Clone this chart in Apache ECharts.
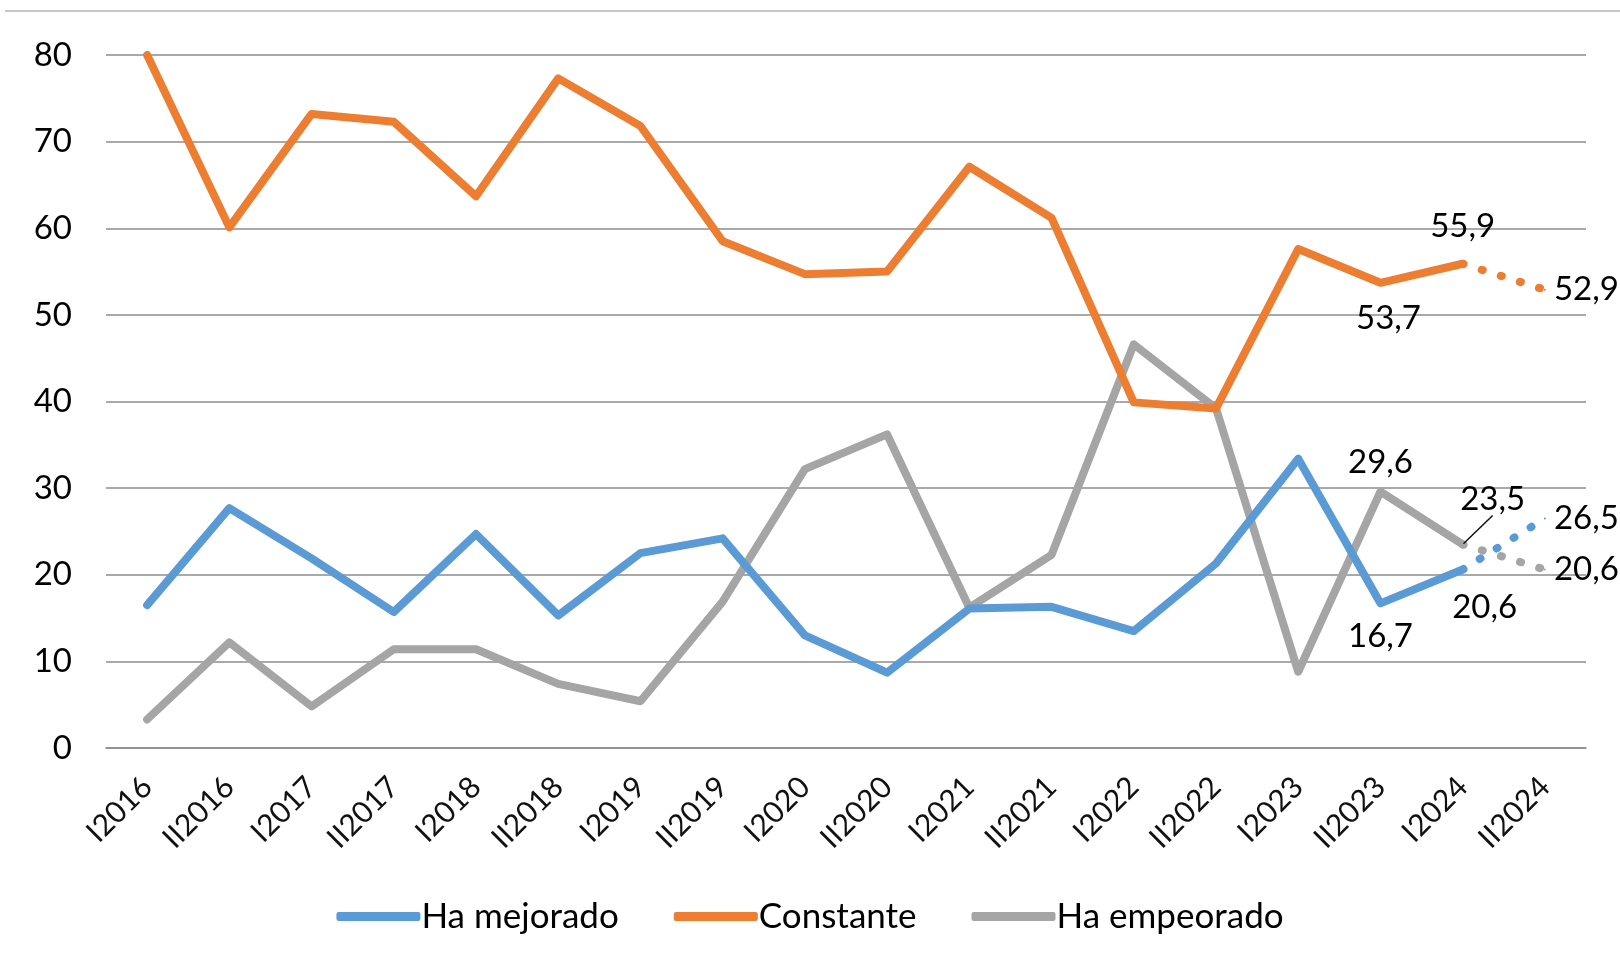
<!DOCTYPE html>
<html>
<head>
<meta charset="utf-8">
<script src="https://cdn.jsdelivr.net/npm/echarts@6/dist/echarts.min.js"></script>
<style>
html,body{margin:0;padding:0;background:#fff;}
#chart{width:1620px;height:972px;}
</style>
</head>
<body>
<div id="chart"></div>
<script>
var categories = ['I2016','II2016','I2017','II2017','I2018','II2018','I2019','II2019','I2020','II2020',
	'I2021','II2021','I2022','II2022','I2023','II2023','I2024','II2024'];
// valores observados hasta I2024, II2024 es la proyeccion (punteada)
var mejorado = [16.5,27.7,21.9,15.7,24.7,15.3,22.5,24.2,13.0,8.7,16.1,16.3,13.5,21.3,33.4,16.7,20.6];
var constante = [80.0,60.1,73.2,72.3,63.7,77.3,71.8,58.5,54.7,55.0,67.1,61.2,39.9,39.2,57.6,53.7,55.9];
var empeorado = [3.3,12.2,4.8,11.4,11.4,7.4,5.4,16.9,32.2,36.2,16.2,22.3,46.6,39.2,8.8,29.6,23.5];
var proyeccion = {mejorado: 26.5, constante: 52.9, empeorado: 20.6};
var yTicks = [0,10,20,30,40,50,60,70,80];

var colors = {mejorado:'#5B9BD5', constante:'#ED7D31', empeorado:'#A5A5A5'};
var font = 'Lato, "Noto Sans", sans-serif';

var fmt = function (v) { return v.toFixed(1).replace('.', ','); };

// etiquetas que se muestran en la grafica
var labelSpec = {
	mejorado: {15:{position:'bottom',distance:16}, 16:{position:'bottom',distance:20,offset:[22,0]}},
	constante: {15:{position:'bottom',distance:18,offset:[8,0]}, 16:{position:'top',distance:20}},
	empeorado: {15:{position:'top',distance:12}, 16:{position:'top',distance:14, line:true}}
};

var chart = echarts.init(document.getElementById('chart'));

var makeSolid = function (name, key, values) {
	var data = values.map(function (v, i) {
		var item = {value: v};
		var spec = labelSpec[key][i];
		if (spec) {
			item.label = {show: true, position: spec.position, distance: spec.distance,
				offset: spec.offset || [0,0]};
			item.labelLine = {show: !!spec.line, lineStyle: {color: '#111', width: 1.5}};
		}
		return item;
	});
	return {
		name: name,
		type: 'line',
		data: data,
		symbol: 'circle',
		symbolSize: 2,
		showSymbol: true,
		itemStyle: {color: colors[key]},
		lineStyle: {width: 8, color: colors[key], cap: 'round', join: 'round'},
		label: {show: false, color: '#000', fontSize: 33, fontFamily: font,
			formatter: function (p) { return fmt(p.value); }},
		emphasis: {disabled: true},
		z: key === 'constante' ? 3 : (key === 'mejorado' ? 4 : 2),
		labelLine: {show: false},
		labelLayout: key === 'empeorado' ? function (p) {
			if (p.dataIndex === 16) return {dx: 30, dy: -14};
		} : null
	};
};

var makeDotted = function (key, last, next) {
	var data = [];
	for (var i = 0; i < categories.length; i++) data.push(null);
	data[16] = last;
	data[17] = {value: next, label: {show: true, position: 'right', distance: 8}};
	return {
		name: key + '_proy',
		type: 'line',
		data: data,
		symbol: 'circle',
		symbolSize: 2,
		itemStyle: {color: colors[key]},
		lineStyle: {width: 8, color: colors[key], type: [1, 19], cap: 'round'},
		label: {show: false, color: '#000', fontSize: 33, fontFamily: font,
			formatter: function (p) { return fmt(p.value); }},
		emphasis: {disabled: true},
		z: 1
	};
};

var option = {
	animation: false,
	textStyle: {fontFamily: font},
	color: [colors.mejorado, colors.constante, colors.empeorado],
	grid: {left: 106, right: 34, top: 55, bottom: 224},
	legend: {
		data: ['Ha mejorado', 'Constante', 'Ha empeorado'],
		bottom: 33,
		left: 'center',
		itemWidth: 84,
		itemHeight: 9,
		itemGap: 55,
		icon: 'roundRect',
		textStyle: {fontSize: 35, color: '#000', fontFamily: font, padding: [0,0,0,-4]}
	},
	graphic: [{
		type: 'line',
		shape: {x1: 5, y1: 11, x2: 1620, y2: 11},
		style: {stroke: '#c8c8c8', lineWidth: 2}
	}],
	xAxis: {
		type: 'category',
		data: categories,
		boundaryGap: true,
		axisLine: {show: true, lineStyle: {color: '#8c8c8c', width: 1.5}},
		axisTick: {show: false},
		axisLabel: {rotate: 45, fontSize: 30, color: '#111', margin: 34, fontFamily: font},
	},
	yAxis: {
		type: 'value',
		min: yTicks[0],
		max: yTicks[yTicks.length - 1],
		interval: 10,
		axisLine: {show: false},
		axisTick: {show: false},
		axisLabel: {fontSize: 33, color: '#000', margin: 34, fontFamily: font},
		splitLine: {lineStyle: {color: '#8c8c8c', width: 1.5}}
	},
	series: [
		makeSolid('Ha mejorado', 'mejorado', mejorado),
		makeSolid('Constante', 'constante', constante),
		makeSolid('Ha empeorado', 'empeorado', empeorado),
		makeDotted('mejorado', mejorado[16], proyeccion.mejorado),
		makeDotted('constante', constante[16], proyeccion.constante),
		makeDotted('empeorado', empeorado[16], proyeccion.empeorado)
	]
};
chart.setOption(option);
</script>
</body>
</html>
